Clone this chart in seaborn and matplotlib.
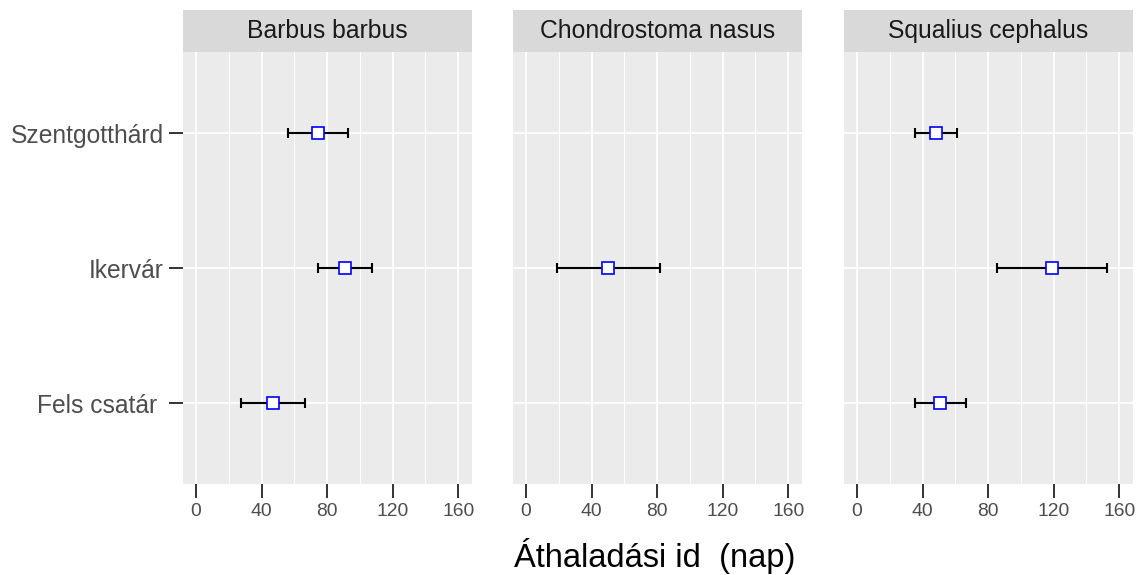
import numpy as np
import pandas as pd
import matplotlib
matplotlib.use("Agg")
import matplotlib.pyplot as plt
import seaborn as sns

# ---- data ----
sites = ["Szentgotthárd", "Ikervár", "Fels csatár "]
species = ["Barbus barbus", "Chondrostoma nasus", "Squalius cephalus"]

barbus_site = ["Szentgotthárd", "Ikervár", "Fels csatár "]
barbus_mean = [74.2, 90.9, 47.1]
barbus_low = [55.8, 74.6, 27.7]
barbus_high = [92.7, 107.2, 66.6]

chondro_site = ["Ikervár"]
chondro_mean = [50.1]
chondro_low = [18.8]
chondro_high = [81.9]

squalius_site = ["Szentgotthárd", "Ikervár", "Fels csatár "]
squalius_mean = [48.3, 119.0, 50.7]
squalius_low = [35.5, 85.4, 35.5]
squalius_high = [61.1, 152.6, 66.2]

x_ticks = [0, 40, 80, 120, 160]
x_label = "Áthaladási id  (nap)"

frames = []
for sp, s, m, lo, hi in [
    (species[0], barbus_site, barbus_mean, barbus_low, barbus_high),
    (species[1], chondro_site, chondro_mean, chondro_low, chondro_high),
    (species[2], squalius_site, squalius_mean, squalius_low, squalius_high),
]:
    frames.append(pd.DataFrame({"species": sp, "site": s, "mean": m, "low": lo, "high": hi}))
df = pd.concat(frames, ignore_index=True)

# ---- style ----
sns.set_theme(style="darkgrid", rc={
    "axes.facecolor": "#EBEBEB",
    "grid.color": "white",
})
plt.rcParams["font.family"] = ["Liberation Sans", "DejaVu Sans"]

W, H = 1137, 575
fig = plt.figure(figsize=(W / 100, H / 100), dpi=100)
fig.patch.set_facecolor("white")

lefts = [183, 513, 844]
pw = 289
ptop, pbot = 52, 484
strip_top = 10

for i, sp in enumerate(species):
    ax = fig.add_axes([lefts[i] / W, 1 - pbot / H, pw / W, (pbot - ptop) / H])
    sub = df[df["species"] == sp]
    ypos = [sites.index(s) for s in sub["site"]]
    ax.errorbar(sub["mean"], ypos,
                xerr=[sub["mean"] - sub["low"], sub["high"] - sub["mean"]],
                fmt="none", ecolor="black", elinewidth=1.5, capsize=3.3,
                capthick=1.5, zorder=3)
    sns.pointplot(data=sub, x="mean", y="site", order=sites, ax=ax,
                  linestyle="none", marker="s", errorbar=None,
                  color="blue", markersize=8.6, markerfacecolor="white",
                  markeredgecolor="blue", markeredgewidth=1.2, zorder=4)
    ax.set_xlim(-8, 168.4)
    ax.set_ylim(len(sites) - 1 + 0.6, -0.6)
    ax.set_xticks(x_ticks)
    ax.set_xticks([20, 60, 100, 140], minor=True)
    ax.set_xticklabels([str(t) for t in x_ticks])
    ax.grid(True, which="major", axis="both", color="white", linewidth=1.25)
    ax.grid(True, which="minor", axis="x", color="white", linewidth=0.7)
    ax.set_axisbelow(True)
    for s in ax.spines.values():
        s.set_visible(False)
    ax.set_xlabel("")
    ax.set_ylabel("")
    ax.tick_params(axis="x", which="major", bottom=True, length=10, width=1.4,
                   color="#333333", labelcolor="#4D4D4D", labelsize=13.9, pad=3.6)
    ax.tick_params(axis="x", which="minor", bottom=False)
    ax.set_yticks(range(len(sites)))
    if i == 0:
        ax.set_yticklabels(sites)
        ax.tick_params(axis="y", left=True, length=10, width=1.4, color="#333333",
                       labelcolor="#4D4D4D", labelsize=17.7, pad=3.6)
    else:
        ax.set_yticklabels([])
        ax.tick_params(axis="y", left=False, length=0)

    # strip
    sax = fig.add_axes([lefts[i] / W, 1 - ptop / H, pw / W, (ptop - strip_top) / H])
    sax.set_facecolor("#D9D9D9")
    sax.set_xticks([]); sax.set_yticks([])
    sax.grid(False)
    for s in sax.spines.values():
        s.set_visible(False)
    sax.text(0.5, 0.5, sp, ha="center", va="center", fontsize=17.8,
             color="#1A1A1A", transform=sax.transAxes)

fig.text(655 / W, 1 - 567 / H, x_label, ha="center", va="baseline",
         fontsize=23.5, color="black")

fig.savefig("out.png", dpi=100, facecolor="white")
